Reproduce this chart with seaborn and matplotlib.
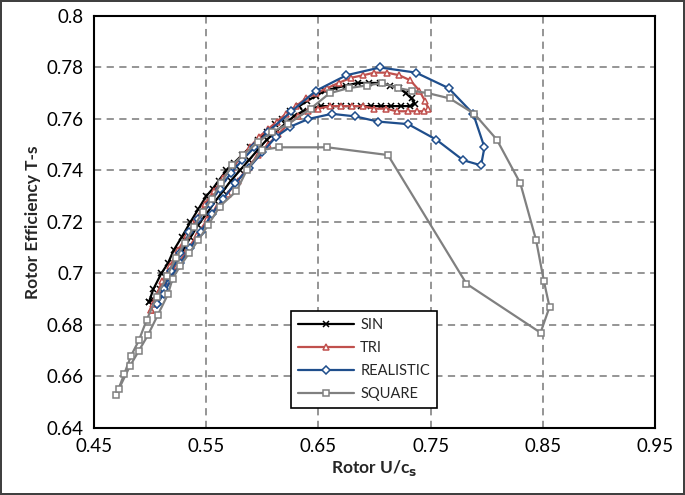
import seaborn as sns
import pandas as pd
import matplotlib.pyplot as plt

# --- datos (U/cs, eficiencia) ---
sin_x = [0.499, 0.503, 0.510, 0.516, 0.521, 0.528, 0.536, 0.543, 0.550, 0.556, 0.561, 0.568,
         0.575, 0.582, 0.589, 0.596, 0.604, 0.611, 0.618, 0.625, 0.633, 0.640, 0.648, 0.656,
         0.665, 0.675, 0.685, 0.695, 0.705, 0.714, 0.722, 0.728, 0.733, 0.736,
         0.732, 0.724, 0.715, 0.706, 0.697, 0.688, 0.679, 0.670, 0.661, 0.652, 0.644, 0.636,
         0.628, 0.620, 0.612, 0.604, 0.596, 0.588, 0.580, 0.572, 0.565, 0.558, 0.550, 0.543,
         0.536, 0.529, 0.522, 0.515, 0.509, 0.503, 0.499]
sin_y = [0.689, 0.694, 0.700, 0.704, 0.709, 0.714, 0.720, 0.725, 0.730, 0.733, 0.736, 0.740,
         0.743, 0.746, 0.749, 0.752, 0.755, 0.758, 0.760, 0.763, 0.765, 0.767, 0.769, 0.771,
         0.772, 0.773, 0.774, 0.774, 0.774, 0.773, 0.772, 0.770, 0.768, 0.766,
         0.765, 0.765, 0.765, 0.765, 0.765, 0.765, 0.765, 0.765, 0.765, 0.765, 0.764, 0.763,
         0.761, 0.758, 0.755, 0.752, 0.748, 0.744, 0.740, 0.736, 0.732, 0.728, 0.723, 0.719,
         0.714, 0.709, 0.704, 0.699, 0.694, 0.690, 0.689]

tri_x = [0.501, 0.505, 0.511, 0.518, 0.525, 0.533, 0.541, 0.549, 0.557, 0.565, 0.573, 0.581,
         0.589, 0.597, 0.605, 0.613, 0.621, 0.630, 0.639, 0.648, 0.658, 0.668, 0.679, 0.690,
         0.700, 0.711, 0.722, 0.732, 0.740, 0.745, 0.748,
         0.744, 0.738, 0.730, 0.720, 0.710, 0.700, 0.690, 0.680, 0.670, 0.660, 0.650, 0.641,
         0.632, 0.623, 0.614, 0.605, 0.596, 0.587, 0.578, 0.569, 0.560, 0.551, 0.542, 0.533,
         0.524, 0.516, 0.509, 0.503, 0.501]
tri_y = [0.686, 0.691, 0.697, 0.703, 0.709, 0.715, 0.721, 0.727, 0.732, 0.737, 0.741, 0.745,
         0.749, 0.753, 0.756, 0.759, 0.762, 0.765, 0.768, 0.770, 0.772, 0.774, 0.776, 0.777,
         0.778, 0.778, 0.777, 0.775, 0.771, 0.767, 0.764,
         0.763, 0.763, 0.763, 0.763, 0.764, 0.764, 0.765, 0.765, 0.765, 0.765, 0.764, 0.763,
         0.761, 0.758, 0.754, 0.750, 0.746, 0.741, 0.736, 0.731, 0.726, 0.721, 0.715, 0.709,
         0.703, 0.697, 0.692, 0.688, 0.686]

real_x = [0.506, 0.512, 0.519, 0.527, 0.535, 0.543, 0.553, 0.562, 0.572, 0.582, 0.593, 0.605,
          0.626, 0.648, 0.675, 0.705, 0.737, 0.766, 0.788, 0.798, 0.795,
          0.779, 0.755, 0.730, 0.703, 0.683, 0.662, 0.641, 0.625, 0.612, 0.600, 0.588,
          0.576, 0.565, 0.555, 0.545, 0.536, 0.527, 0.519, 0.512, 0.506]
real_y = [0.688, 0.694, 0.701, 0.708, 0.716, 0.721, 0.727, 0.733, 0.739, 0.744, 0.749, 0.755,
          0.763, 0.771, 0.777, 0.780, 0.778, 0.772, 0.762, 0.749, 0.742,
          0.744, 0.752, 0.758, 0.759, 0.761, 0.762, 0.760, 0.757, 0.753, 0.747, 0.741,
          0.735, 0.729, 0.723, 0.716, 0.710, 0.704, 0.698, 0.692, 0.688]

sq_x = [0.470, 0.477, 0.483, 0.490, 0.497, 0.506, 0.515, 0.523, 0.531, 0.539, 0.547, 0.555,
        0.563, 0.573, 0.583, 0.596, 0.609, 0.623, 0.643, 0.660, 0.677, 0.693, 0.707, 0.721,
        0.733, 0.748, 0.767, 0.789, 0.809, 0.830, 0.844, 0.851, 0.856, 0.848,
        0.782, 0.712, 0.658, 0.615, 0.600, 0.586, 0.577, 0.562, 0.552, 0.543, 0.535, 0.527,
        0.520, 0.516, 0.507, 0.498, 0.490, 0.482, 0.472]
sq_y = [0.653, 0.661, 0.668, 0.674, 0.682, 0.691, 0.699, 0.706, 0.712, 0.718, 0.724, 0.729,
        0.735, 0.742, 0.746, 0.751, 0.755, 0.758, 0.764, 0.770, 0.772, 0.773, 0.774, 0.772,
        0.771, 0.770, 0.768, 0.762, 0.752, 0.735, 0.713, 0.697, 0.687, 0.677,
        0.696, 0.746, 0.749, 0.749, 0.748, 0.740, 0.732, 0.726, 0.719, 0.713, 0.708, 0.703,
        0.698, 0.692, 0.684, 0.676, 0.670, 0.664, 0.655]

x_ticks = [0.45, 0.55, 0.65, 0.75, 0.85, 0.95]
x_labels = ['0.45', '0.55', '0.65', '0.75', '0.85', '0.95']
y_ticks = [0.64, 0.66, 0.68, 0.70, 0.72, 0.74, 0.76, 0.78, 0.80]
y_labels = ['0.64', '0.66', '0.68', '0.7', '0.72', '0.74', '0.76', '0.78', '0.8']

series = [
    ('SIN', sin_x, sin_y, '#000000', 'x', '#000000'),
    ('TRI', tri_x, tri_y, '#C0504D', '^', 'white'),
    ('REALISTIC', real_x, real_y, '#1F4E8C', 'D', 'white'),
    ('SQUARE', sq_x, sq_y, '#808080', 's', 'white'),
]

sns.set_style("white")
plt.rcParams['font.family'] = ['Lato', 'DejaVu Sans']

fig = plt.figure(figsize=(6.85, 4.95), dpi=100)
fig.patch.set_edgecolor('#404040')
fig.patch.set_linewidth(1.5)
ax = fig.add_axes([0.1372, 0.1354, 0.819, 0.8323])

for name, xs, ys, col, mk, fc in series:
    df = pd.DataFrame({'x': xs, 'y': ys})
    sns.lineplot(data=df, x='x', y='y', sort=False, estimator=None, ax=ax,
                 color=col, linewidth=1.6, marker=mk, markersize=4.5 if mk != 'D' else 3.8,
                 markerfacecolor=fc, markeredgecolor=col, markeredgewidth=1.1,
                 label=name)

ax.set_xlim(0.45, 0.95)
ax.set_ylim(0.64, 0.80)
ax.set_xticks(x_ticks)
ax.set_xticklabels(x_labels)
ax.set_yticks(y_ticks)
ax.set_yticklabels(y_labels)
ax.tick_params(direction='inout', length=8, width=1.2, labelsize=13.5, colors='black')

ax.grid(True, color='#8C8C8C', linestyle=(0, (4, 3)), linewidth=1.3)
ax.set_axisbelow(True)
for s in ax.spines.values():
    s.set_color('black')
    s.set_linewidth(1.5)
    s.set_zorder(5)

ax.set_xlabel('Rotor U/c$_\\mathbf{s}$', fontsize=12.5, fontweight='bold', labelpad=2)
ax.set_ylabel('Rotor Efficiency T-s', fontsize=12.5, fontweight='bold', labelpad=4)

leg = ax.legend(loc='lower left', bbox_to_anchor=(0.351, 0.0485), fontsize=10.5,
                frameon=True, fancybox=False, edgecolor='black', framealpha=1,
                handlelength=3.8, handletextpad=0.45, labelspacing=0.6,
                borderpad=0.5, borderaxespad=0)
leg.get_frame().set_linewidth(1.2)

fig.savefig('out.png', dpi=100)
